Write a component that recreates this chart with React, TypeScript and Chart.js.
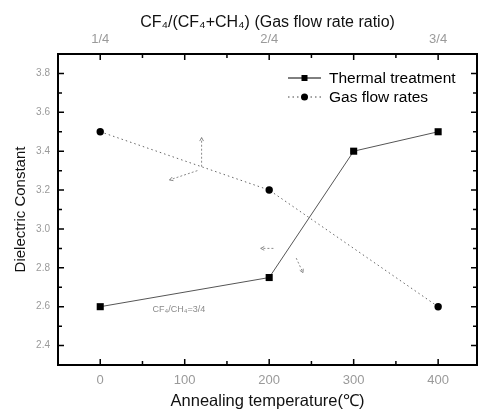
import React, { useEffect, useRef } from "react";
import { Chart, registerables } from "chart.js";
Chart.register(...registerables);

// ---- data ----
const temps = [0, 200, 300, 400];
const thermalK = [2.6, 2.75, 3.4, 3.5];
const gasRatio = [0.25, 0.5, 0.75];
const gasK = [3.5, 3.2, 2.6];

// ---- ticks ----
const tempTicks = [0, 50, 100, 150, 200, 250, 300, 350, 400];
const tempLabels = ["0", "100", "200", "300", "400"];
const ratioTicks = [0.25, 0.3125, 0.375, 0.4375, 0.5, 0.5625, 0.625, 0.6875, 0.75];
const ratioLabelValues = [0.25, 0.5, 0.75];
const ratioLabels = ["1/4", "2/4", "3/4"];
const kTicks = [2.4, 2.5, 2.6, 2.7, 2.8, 2.9, 3.0, 3.1, 3.2, 3.3, 3.4, 3.5, 3.6, 3.7, 3.8];
const kLabels = ["2.4", "2.6", "2.8", "3.0", "3.2", "3.4", "3.6", "3.8"];

// annotation arrows in (temperature, k) units: [x1, y1, x2, y2] (arrow head at x2,y2)
const arrows = [
  [120, 3.32, 120, 3.47],
  [115, 3.3, 82, 3.252],
  [205, 2.9, 190, 2.9],
  [232, 2.85, 240, 2.775],
];
const noteText = "CF\u2084/CH\u2084=3/4";
const notePos = [62, 2.585];

const FONT = "'Liberation Sans', Arial, Helvetica, sans-serif";

const framePlugin = {
  id: "frame",
  afterDatasetsDraw(chart: any) {
    const { ctx, chartArea: a, scales } = chart;
    ctx.save();
    // annotations
    ctx.strokeStyle = "#8a8a8a";
    ctx.fillStyle = "#8a8a8a";
    ctx.lineWidth = 1;
    for (const [x1, y1, x2, y2] of arrows) {
      const px1 = scales.x.getPixelForValue(x1);
      const py1 = scales.y.getPixelForValue(y1);
      const px2 = scales.x.getPixelForValue(x2);
      const py2 = scales.y.getPixelForValue(y2);
      ctx.setLineDash([2, 2]);
      ctx.beginPath();
      ctx.moveTo(px1, py1);
      ctx.lineTo(px2, py2);
      ctx.stroke();
      ctx.setLineDash([]);
      const ang = Math.atan2(py2 - py1, px2 - px1);
      const h = 4;
      ctx.beginPath();
      ctx.moveTo(px2 - h * Math.cos(ang - 0.5), py2 - h * Math.sin(ang - 0.5));
      ctx.lineTo(px2, py2);
      ctx.lineTo(px2 - h * Math.cos(ang + 0.5), py2 - h * Math.sin(ang + 0.5));
      ctx.stroke();
    }
    ctx.font = `9px ${FONT}`;
    ctx.textAlign = "left";
    ctx.textBaseline = "middle";
    ctx.fillText(noteText, scales.x.getPixelForValue(notePos[0]), scales.y.getPixelForValue(notePos[1]));

    // frame
    ctx.strokeStyle = "#000";
    ctx.lineWidth = 2;
    ctx.strokeRect(a.left, a.top, a.right - a.left, a.bottom - a.top);
    ctx.lineWidth = 1.5;
    ctx.beginPath();
    for (const v of tempTicks) {
      const px = scales.x.getPixelForValue(v);
      const len = v % 100 === 0 ? 6 : 4;
      ctx.moveTo(px, a.bottom);
      ctx.lineTo(px, a.bottom - len);
    }
    for (const v of ratioTicks) {
      const px = scales.x2.getPixelForValue(v);
      const q = (v - 0.25) / 0.125;
      const len = Math.abs(q - Math.round(q)) < 1e-6 ? 6 : 4;
      ctx.moveTo(px, a.top);
      ctx.lineTo(px, a.top + len);
    }
    for (const v of kTicks) {
      const py = scales.y.getPixelForValue(v);
      const len = kLabels.includes(v.toFixed(1)) ? 6 : 4;
      ctx.moveTo(a.left, py);
      ctx.lineTo(a.left + len, py);
      ctx.moveTo(a.right, py);
      ctx.lineTo(a.right - len, py);
    }
    ctx.stroke();

    // legend
    const lx = a.right - 189;
    const rows = [a.top + 24, a.top + 43];
    chart.data.datasets.forEach((ds: any, i: number) => {
      const y = rows[i];
      ctx.strokeStyle = i === 0 ? "#000" : "#444";
      ctx.lineWidth = 1;
      ctx.setLineDash(ds.borderDash || []);
      ctx.beginPath();
      ctx.moveTo(lx, y);
      ctx.lineTo(lx + 33, y);
      ctx.stroke();
      ctx.setLineDash([]);
      ctx.fillStyle = "#000";
      if (ds.pointStyle === "rect") {
        ctx.fillRect(lx + 13.5, y - 3, 6, 6);
      } else {
        ctx.beginPath();
        ctx.arc(lx + 16.5, y, 3.5, 0, Math.PI * 2);
        ctx.fill();
      }
      ctx.font = `15.5px ${FONT}`;
      ctx.textAlign = "left";
      ctx.textBaseline = "middle";
      ctx.fillText(ds.label, lx + 41, y + 1);
    });
    ctx.restore();
  },
};

export default function App() {
  const ref = useRef<HTMLCanvasElement | null>(null);
  useEffect(() => {
    document.body.style.margin = "0";
    const canvas = ref.current!;
    const chart = new Chart(canvas, {
      type: "line",
      data: {
        datasets: [
          {
            label: "Thermal treatment",
            data: temps.map((t, i) => ({ x: t, y: thermalK[i] })),
            xAxisID: "x",
            yAxisID: "y",
            borderColor: "#555",
            borderWidth: 1,
            backgroundColor: "#000",
            pointStyle: "rect",
            pointRadius: 5,
            pointBorderWidth: 0,
            pointBackgroundColor: "#000",
            tension: 0,
          } as any,
          {
            label: "Gas flow rates",
            data: gasRatio.map((r, i) => ({ x: r, y: gasK[i] })),
            xAxisID: "x2",
            yAxisID: "y",
            borderColor: "#666",
            borderWidth: 1,
            borderDash: [1.5, 3],
            backgroundColor: "#000",
            pointStyle: "circle",
            pointRadius: 3.7,
            pointBorderWidth: 0,
            pointBackgroundColor: "#000",
            tension: 0,
          } as any,
        ],
      },
      options: {
        animation: false,
        responsive: false,
        devicePixelRatio: 1,
        layout: { padding: 0 },
        plugins: { legend: { display: false }, tooltip: { enabled: false } },
        scales: {
          x: {
            type: "linear",
            position: "bottom",
            min: -50,
            max: 446,
            afterBuildTicks: (s: any) => {
              s.ticks = tempTicks.map((v) => ({ value: v }));
            },
            afterFit: (s: any) => {
              s.height = 46;
            },
            grid: { display: false, drawTicks: false },
            border: { display: false },
            ticks: {
              autoSkip: false,
              maxRotation: 0,
              minRotation: 0,
              padding: 8,
              color: "#9a9a9a",
              font: { size: 13, family: FONT },
              callback: (v: any) => (tempLabels.includes(String(v)) ? String(v) : ""),
            },
            title: {
              display: true,
              text: "Annealing temperature(\u2103)",
              color: "#111",
              font: { size: 16.5, family: FONT },
              padding: { top: 0, bottom: 0 },
            },
          },
          x2: {
            type: "linear",
            position: "top",
            min: 0.1875,
            max: 0.8075,
            afterBuildTicks: (s: any) => {
              s.ticks = ratioTicks.map((v) => ({ value: v }));
            },
            afterFit: (s: any) => {
              s.height = 54;
            },
            grid: { display: false, drawTicks: false },
            border: { display: false },
            ticks: {
              autoSkip: false,
              maxRotation: 0,
              minRotation: 0,
              padding: 7,
              color: "#9a9a9a",
              font: { size: 13, family: FONT },
              callback: (v: any) => {
                const idx = ratioLabelValues.findIndex((r) => Math.abs(r - v) < 1e-6);
                return idx >= 0 ? ratioLabels[idx] : "";
              },
            },
            title: {
              display: true,
              text: "CF\u2084/(CF\u2084+CH\u2084) (Gas flow rate ratio)",
              color: "#111",
              font: { size: 16, family: FONT },
              padding: { top: 13, bottom: 0 },
            },
          },
          y: {
            type: "linear",
            position: "left",
            min: 2.3,
            max: 3.9,
            afterBuildTicks: (s: any) => {
              s.ticks = kTicks.map((v) => ({ value: v }));
            },
            afterFit: (s: any) => {
              s.width = 58;
            },
            grid: { display: false, drawTicks: false },
            border: { display: false },
            ticks: {
              autoSkip: false,
              padding: 8,
              color: "#9a9a9a",
              font: { size: 10, family: FONT },
              callback: (v: any) => (kLabels.includes(Number(v).toFixed(1)) ? Number(v).toFixed(1) : ""),
            },
            title: {
              display: true,
              text: "Dielectric Constant",
              color: "#111",
              font: { size: 15, family: FONT },
              padding: { top: 12, bottom: 0 },
            },
          },
          y2: {
            type: "linear",
            position: "right",
            min: 2.3,
            max: 3.9,
            afterFit: (s: any) => {
              s.width = 1;
            },
            grid: { display: false, drawTicks: false },
            border: { display: false },
            ticks: { display: false },
          },
        },
      } as any,
      plugins: [framePlugin],
    });
    return () => chart.destroy();
  }, []);
  return (
    <div style={{ width: 482, height: 411 }}>
      <canvas ref={ref} width={482} height={411} style={{ display: "block" }} />
    </div>
  );
}
